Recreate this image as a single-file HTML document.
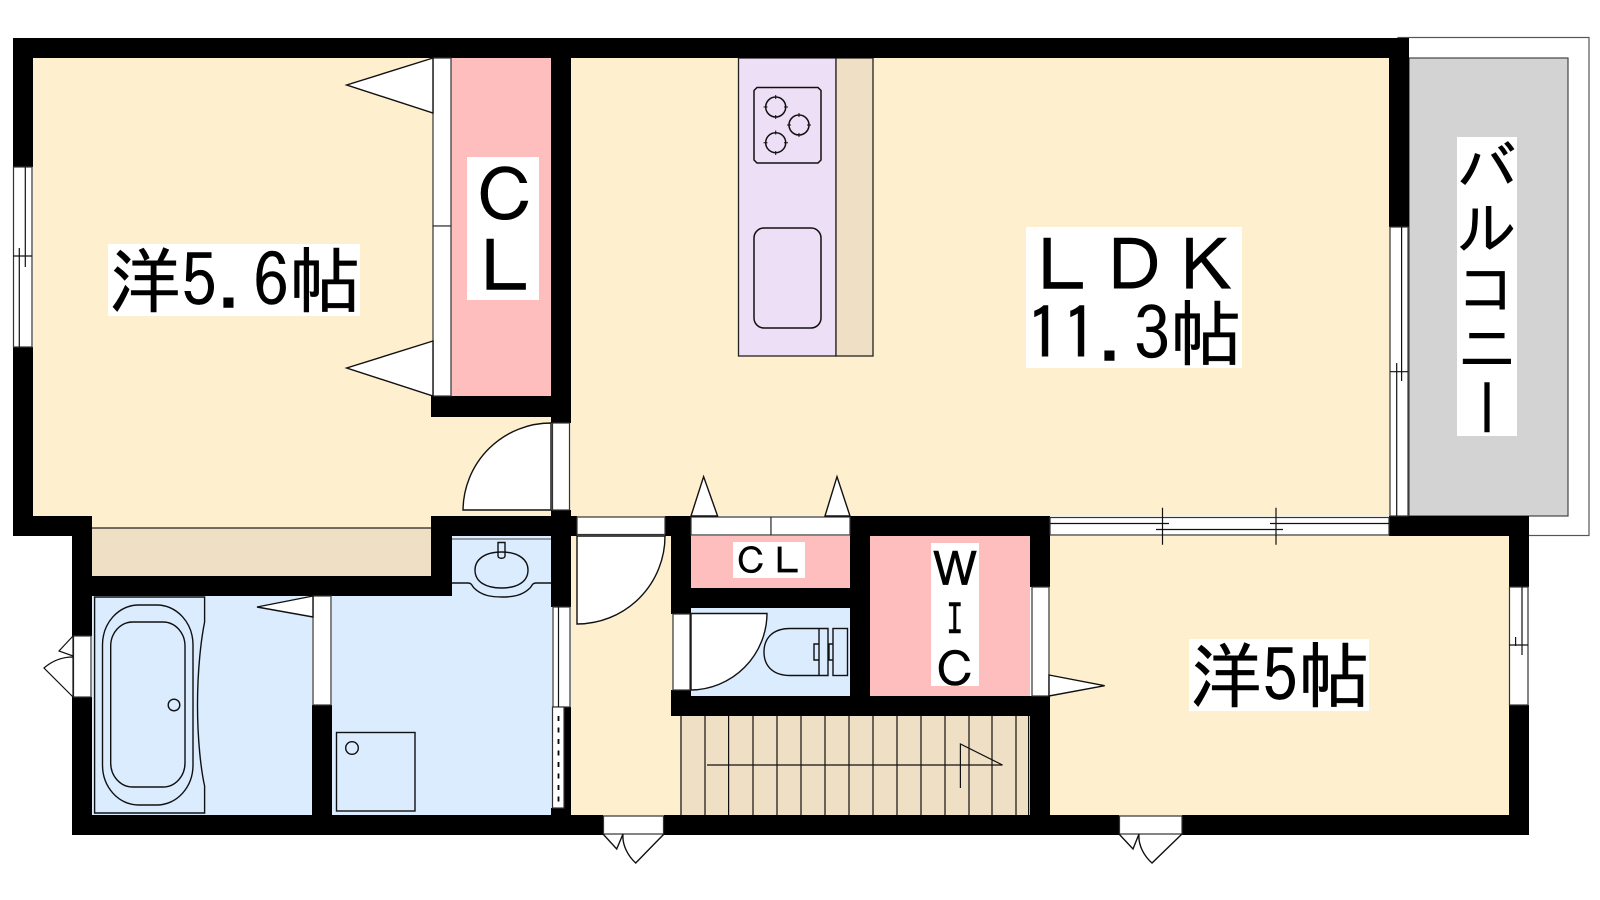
<!DOCTYPE html>
<html><head><meta charset="utf-8">
<style>
html,body{margin:0;padding:0;background:#fff;width:1600px;height:900px;overflow:hidden}
svg{position:absolute;left:0;top:0}
.l{position:absolute;background:#fff;color:#000;font-family:"IPAGothic","Noto Sans CJK JP",monospace;text-align:center;white-space:pre;-webkit-text-stroke:.5px #000}
.l span{position:relative}
</style></head><body>
<svg width="1600" height="900" viewBox="0 0 1600 900" xmlns="http://www.w3.org/2000/svg">
<!-- balcony -->
<rect x="1398" y="37.5" width="191" height="498" fill="#fff" stroke="#555" stroke-width="1.2"/>
<rect x="1409" y="58" width="159" height="458" fill="#d3d3d3" stroke="#444" stroke-width="1.2"/>
<!-- floors -->
<rect x="33" y="58" width="520" height="458" fill="#fef0cf"/>
<rect x="92" y="516" width="340" height="12" fill="#fef0cf"/>
<rect x="570" y="58" width="820" height="458" fill="#fef0cf"/>
<rect x="571" y="516" width="110" height="300" fill="#fef0cf"/>
<rect x="1050" y="536" width="460" height="280" fill="#fef0cf"/>
<!-- closets, beige -->
<rect x="92" y="528" width="339" height="48" fill="#efdfc5"/>
<line x1="92" y1="528" x2="431" y2="528" stroke="#222" stroke-width="1.2"/>
<rect x="451" y="58" width="100" height="338" fill="#ffbebe"/>
<rect x="691" y="536" width="159" height="52" fill="#ffbebe"/>
<rect x="870" y="536" width="160" height="160" fill="#ffbebe"/>
<!-- blue rooms -->
<rect x="92" y="596" width="220" height="220" fill="#dbecff"/>
<rect x="332" y="596" width="220" height="220" fill="#dbecff"/>
<rect x="452" y="536" width="100" height="60" fill="#dbecff"/>
<rect x="691" y="608" width="159" height="88" fill="#dbecff"/>
<!-- stairs -->
<rect x="680" y="716" width="350" height="100" fill="#efdfc5"/>
<g stroke="#111" stroke-width="1.2" fill="none">
<path d="M681 716V816M705 716V816M728.6 716V816M753 716V816M777 716V816M801 716V816M825 716V816M849 716V816M873 716V816M897 716V816M921 716V816M945 716V816M969 716V816M992 716V816M1016 716V816M1028.6 716V816"/>
<path d="M707 765H1002.5L960.4 744V788"/>
</g>
<!-- kitchen -->
<rect x="738.5" y="58" width="97.5" height="298" fill="#eddff6" stroke="#222" stroke-width="1.3"/>
<rect x="836" y="58" width="37" height="298" fill="#efdfc5" stroke="#222" stroke-width="1.3"/>
<g fill="none" stroke="#111" stroke-width="1.5">
<path d="M757 87.5H818L821 90.5V160L818 163H757L754 160V90.5Z"/>
<circle cx="775.7" cy="107" r="10"/><circle cx="799" cy="125" r="10"/><circle cx="775.7" cy="142.7" r="10"/>
<path d="M775.7 95V99M775.7 115V119M763.500 107H767.500M784 107H788M799 113V117M799 133V137M787 125H791M807 125H811M775.700 130.500V134.500M775.700 151V155M763.500 142.700H767.500M784 142.700H788" stroke-width="1"/>
<rect x="754" y="228" width="67" height="100" rx="10" ry="10"/>
</g>
<!-- bath -->
<g fill="none" stroke="#111" stroke-width="1.4">
<path d="M94.600 597H204.600V622C201 640 197.500 670 197.500 705C197.500 740 201 770 204.600 786V813H94.600Z"/>
<rect x="102.500" y="605" width="90.500" height="200" rx="36" ry="40"/>
<rect x="110.700" y="622" width="74.300" height="165" rx="22" ry="24"/>
<circle cx="174" cy="705" r="5.800"/>
<rect x="336.500" y="732.500" width="78.500" height="78.500"/>
<circle cx="352" cy="748" r="6.300"/>
<!-- sink -->
<path d="M452 583H468C472 583 472 586 474 588C482 596 492 597 502 597C512 597 522 596 530 588C532 586 532 583 536 583H552"/>
<path d="M501.500 552C484 552 475 560 475 570C475 582 486 588 501.500 588C517 588 528 582 528 570C528 560 519 552 501.500 552Z"/>
<path d="M498 542.500H505V556C505 559 498 559 498 556Z"/>
<line x1="452" y1="539" x2="551" y2="539" stroke-width="1" stroke="#444"/>
<!-- toilet -->
<path d="M819 628.500H790C773 628.500 764 638 764 652C764 666 773 675.500 790 675.500H819M819 628.500H828V675.500H819ZM819 628.500V644H814V660H819V675.500"/>
<path d="M828 644H833M828 660H833M829 644V660"/>
<rect x="833" y="628.500" width="14.500" height="47"/>
</g>
<!-- walls -->
<g fill="#000">
<rect x="13" y="38" width="1396" height="20"/>
<rect x="13" y="38" width="20" height="129"/>
<rect x="13" y="347" width="20" height="189"/>
<rect x="13" y="516" width="79" height="20"/>
<rect x="72" y="516" width="20" height="120"/>
<rect x="72" y="697" width="20" height="138"/>
<rect x="72" y="815" width="531" height="20"/>
<rect x="664" y="815" width="455" height="20"/>
<rect x="1182" y="815" width="347" height="20"/>
<rect x="72" y="576" width="380" height="20"/>
<rect x="431" y="516" width="21" height="80"/>
<rect x="431" y="516" width="121" height="20"/>
<rect x="551" y="58" width="20" height="365"/>
<rect x="431" y="396" width="140" height="21"/>
<rect x="551" y="510" width="20" height="97"/>
<rect x="312" y="705" width="20" height="110"/>
<rect x="551" y="808" width="20" height="8"/>
<rect x="564" y="707" width="7" height="101"/>
<rect x="551" y="516" width="26" height="20"/>
<rect x="665" y="516" width="26" height="20"/>
<rect x="671" y="516" width="20" height="98"/>
<rect x="671" y="690" width="20" height="26"/>
<rect x="671" y="588" width="199" height="20"/>
<rect x="671" y="696" width="379" height="20"/>
<rect x="850" y="516" width="200" height="20"/>
<rect x="850" y="516" width="20" height="200"/>
<rect x="1030" y="516" width="20" height="71"/>
<rect x="1030" y="696" width="20" height="139"/>
<rect x="1389" y="38" width="20" height="189"/>
<rect x="1389" y="516" width="140" height="20"/>
<rect x="1509" y="516" width="20" height="71"/>
<rect x="1509" y="705" width="20" height="130"/>
</g>
<!-- windows / doors -->
<g fill="#fff" stroke="#333" stroke-width="1.2">
<rect x="13.500" y="167" width="18.500" height="180"/>
<rect x="433" y="58" width="18" height="168"/>
<rect x="433" y="226" width="18" height="170"/>
<path d="M433 58L346.700 85L433 113Z" stroke="#111" stroke-width="1.4"/>
<path d="M433 341L346.700 368L433 396Z" stroke="#111" stroke-width="1.4"/>
<rect x="552.500" y="423" width="17" height="87"/>
<path d="M551 423A88 88 0 0 0 463 510H551Z" stroke="#111" stroke-width="1.4"/>
<rect x="73.500" y="636" width="17.500" height="61"/>
<path d="M73 636L59 651L73 656Z" stroke="#111"/>
<path d="M73 697L44 668C52 661 62 657 73 657Z" stroke="#111"/>
<rect x="313" y="596" width="18" height="109"/>
<path d="M313 596L257 607L313 617Z" stroke="#111" stroke-width="1.4"/>
<rect x="553" y="607" width="17" height="100"/>
<rect x="552.500" y="707" width="11.500" height="101"/>
<rect x="577" y="517" width="88" height="17.500"/>
<path d="M577 536H665A88 88 0 0 1 577 624Z" stroke="#111" stroke-width="1.4"/>
<rect x="691" y="517" width="80" height="18"/>
<rect x="771" y="517" width="79" height="18"/>
<path d="M691 516L703.600 476.700L717.600 516Z" stroke="#111" stroke-width="1.4"/>
<path d="M825 516L837 476.700L850 516Z" stroke="#111" stroke-width="1.4"/>
<rect x="673" y="614" width="17" height="76"/>
<path d="M691 613.500H767A77 77 0 0 1 691 690Z" stroke="#111" stroke-width="1.4"/>
<rect x="1032" y="587" width="17" height="109"/>
<path d="M1049 675L1104.700 685.700L1049 696Z" stroke="#111" stroke-width="1.4"/>
<rect x="1050" y="517.500" width="339" height="17.500"/>
<rect x="1390" y="227" width="18" height="289"/>
<rect x="1509.500" y="587" width="18.500" height="118"/>
<rect x="603.500" y="816" width="60" height="18"/>
<rect x="1119.500" y="816" width="62.500" height="18"/>
</g>
<g fill="none" stroke="#111" stroke-width="1.4">
<path d="M603 834L616.700 849L623 834M623 834C622 845 628 856 635.700 863L664 834"/>
<path d="M1119 834L1133 849L1139 834M1139 834C1138 845 1144 856 1152 863L1182 834"/>
</g>
<g stroke="#111" stroke-width="1.2" fill="none">
<path d="M25.300 167V267M19.300 248V347M13 256H32"/>
<path d="M1396.700 363V516M1401.600 227V381M1390 371.700H1408"/>
<path d="M558.500 607V707"/>
<path d="M1522 587V655M1515.600 637V646M1509 645H1528"/>
<path d="M1050 523.500H1169M1270 523.500H1389M1156 529.500H1283M1162.500 507.700V544.700M1276 507.700V544.700"/>
<path d="M558.500 716V803" stroke-width="1.800" stroke-dasharray="5 6.500" stroke="#000"/>
</g>
</svg>
<div class="l" style="left:108px;top:244px;width:252px;height:72px;font-size:72px;line-height:72px"><span style="left:1px">洋5.6帖</span></div>
<div class="l" style="left:1026px;top:227px;width:216px;height:141px;font-size:72px;line-height:70.5px"><span style="top:3px">ＬＤＫ</span>
11.3帖</div>
<div class="l" style="left:1189px;top:639px;width:180px;height:72px;font-size:72px;line-height:72px"><span style="left:1px">洋5帖</span></div>
<div class="l" style="left:467px;top:157px;width:72px;height:143px;font-size:72px;line-height:71.5px"><span style="left:2px;top:3px">Ｃ</span>
<span style="left:2px;top:2px">Ｌ</span></div>
<div class="l" style="left:733px;top:542px;width:72px;height:36px;font-size:36px;line-height:36px"><span style="top:1px">ＣＬ</span></div>
<div class="l" style="left:931px;top:543px;width:48px;height:143px;font-size:48px;line-height:47.7px"><span style="top:3px">Ｗ</span>
<span style="display:inline-block;top:1px;font-family:'Liberation Mono',monospace;font-size:46px;transform:scaleX(.62)">I</span>
<span style="top:2px">Ｃ</span></div>
<div class="l" style="left:1457px;top:137px;width:60px;height:299px;font-size:60px;line-height:60px;writing-mode:vertical-rl;text-orientation:upright">バルコニー</div>
</body></html>
